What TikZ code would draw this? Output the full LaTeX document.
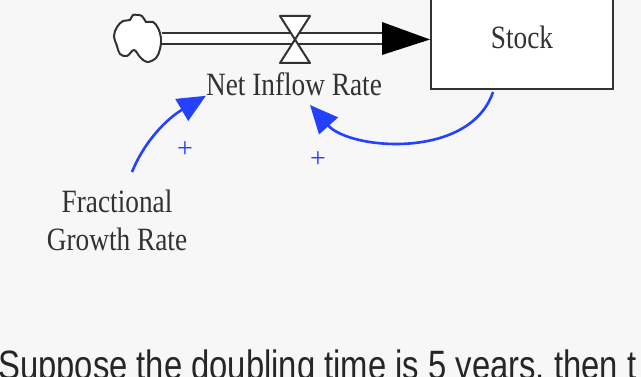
\documentclass[tikz,border=0pt]{standalone}
\usepackage{fontspec}
\setmainfont{Liberation Serif}
\newfontfamily\diagfont[FakeStretch=0.84]{Liberation Serif}
\newfontfamily\bodyfont[FakeStretch=0.8]{Liberation Sans}
\usetikzlibrary{arrows.meta}
\definecolor{bg}{RGB}{247,247,247}
\definecolor{ink}{RGB}{50,50,50}
\definecolor{linkblue}{RGB}{35,65,255}
\tikzset{
  lbl/.style={font=\diagfont\fontsize{32.5}{38}\selectfont, text=ink, inner sep=0pt, align=center},
  stockbox/.style={draw=ink, fill=white, line width=2pt, minimum width=182pt, minimum height=99pt, inner sep=0pt},
  link/.style={draw=linkblue, line width=2.6pt, -{Triangle[length=28pt,width=25pt]}},
  polarity/.style={text=linkblue, font=\fontsize{28}{28}\selectfont, inner sep=0pt},
  pipe/.style={draw=ink, line width=2.5pt, double=white, double distance=8.5pt},
  valveline/.style={draw=ink, line width=2pt, line join=round}
}
\begin{document}
\begin{tikzpicture}[x=1pt,y=-1pt]
\useasboundingbox (0,0) rectangle (641,377);
\fill[bg] (0,0) rectangle (641,377);
\clip (0,0) rectangle (641,377);

% stock
\node[stockbox] (stock) at (522,39.5) {};
\node[lbl] (stocktext) at ([yshift=2.5pt]stock.center) {Stock};

% source cloud
\coordinate (cloudR) at (162,38.5);
\draw[ink, line width=2pt, fill=white]
  plot[smooth cycle, tension=0.6] coordinates {
    (117,27) (123,21) (130,20) (133,15) (142,16) (146,22) (153,22)
    (158,28) (161,38) (160,49) (156,58) (147,62) (140,57) (134,50)
    (127,56) (120,54) (117,46) (114,36)};

% flow pipe with arrowhead
\coordinate (headbase) at (384,38.5);
\draw[pipe] (cloudR) -- (headbase);
\fill[black] (382,22) -- (stock.west) -- (382,55) -- cycle;

% valve
\coordinate (valve) at (295,39.5);
\draw[valveline, fill=white] (280,16) -- (310,16) -- (valve) -- cycle;
\draw[valveline, fill=white] (valve) -- (280,63) -- (310,63) -- cycle;

% labels
\node[lbl] (rate) at (294,84) {Net Inflow Rate};
\node[lbl] (frac) at (117,220) {Fractional\\Growth Rate};

% causal links
\coordinate (fracTop) at (132,172);
\coordinate (stockBot) at (493,92);
\draw[link] (fracTop) .. controls (145,140) and (168,118) .. (rate.south west);
\draw[link] (stockBot) .. controls (470,160) and (350,150) .. (310,105);
\node[polarity] (p1) at (185,150) {+};
\node[polarity] (p2) at (318,160) {+};

% caption line
\node[anchor=base west, inner sep=0pt, text=black!85,
      font=\bodyfont\fontsize{41}{41}\selectfont] (caption) at (-2,380)
  {Suppose the doubling time is 5 years, then t};
\end{tikzpicture}
\end{document}
